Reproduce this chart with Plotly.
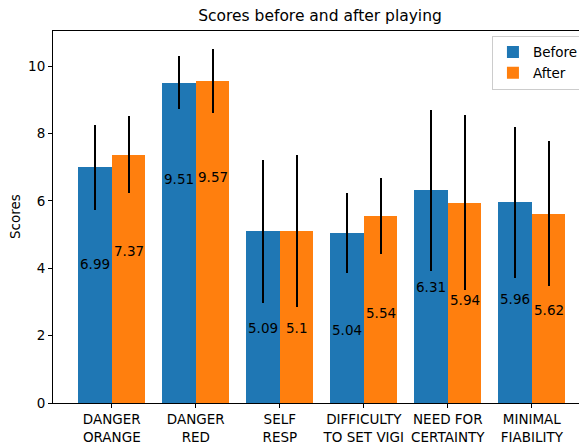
import plotly.graph_objects as go

categories = ["DANGER<br>ORANGE", "DANGER<br>RED", "SELF<br>RESP",
              "DIFFICULTY<br>TO SET VIGI", "NEED FOR<br>CERTAINTY", "MINIMAL<br>FIABILITY"]
before = [6.99, 9.51, 5.09, 5.04, 6.31, 5.96]
after = [7.37, 9.57, 5.10, 5.54, 5.94, 5.62]
before_err = [1.27, 0.78, 2.13, 1.18, 2.40, 2.24]
after_err = [1.14, 0.95, 2.25, 1.13, 2.60, 2.15]
before_labels = ["6.99", "9.51", "5.09", "5.04", "6.31", "5.96"]
after_labels = ["7.37", "9.57", "5.1", "5.54", "5.94", "5.62"]

FONT = "DejaVu Sans"
FS = 13.5
W = 0.4
idx = list(range(len(categories)))
xb = [i - W / 2 for i in idx]
xa = [i + W / 2 for i in idx]

fig = go.Figure()
fig.add_trace(go.Bar(
    x=xb, y=before, width=W, name="Before", marker=dict(color="#1f77b4", line=dict(width=0)),
    error_y=dict(type="data", array=before_err, color="black", thickness=2.2, width=0),
))
fig.add_trace(go.Bar(
    x=xa, y=after, width=W, name="After", marker=dict(color="#ff7f0e", line=dict(width=0)),
    error_y=dict(type="data", array=after_err, color="black", thickness=2.2, width=0),
))

annotations = []
for xs, vals, labs in ((xb, before, before_labels), (xa, after, after_labels)):
    for x, v, t in zip(xs, vals, labs):
        annotations.append(dict(x=x, y=v - 2.87, xref="x", yref="y", text=t, showarrow=False,
                                xanchor="center", yanchor="middle",
                                font=dict(family=FONT, size=FS, color="black")))
annotations.append(dict(x=-0.071, y=0.5, xref="paper", yref="paper", text="Scores",
                        showarrow=False, textangle=-90, xanchor="center", yanchor="middle",
                        font=dict(family=FONT, size=FS, color="black")))

# page body adds an 8px offset; figure is sized to the remaining visible area
fig.update_layout(
    width=579, height=436,
    margin=dict(l=45, r=0, t=23, b=41),
    paper_bgcolor="white", plot_bgcolor="white",
    barmode="overlay", bargap=0,
    font=dict(family=FONT, size=FS, color="black"),
    title=dict(text="Scores before and after playing", x=0.5, xref="paper", xanchor="center",
               y=1 - 2 / 436, yref="container", yanchor="top", pad=dict(t=0, b=0),
               font=dict(family=FONT, size=15.5, color="black")),
    xaxis=dict(range=[-0.7, 5.657], tickmode="array", tickvals=idx, ticktext=categories,
               showline=True, linecolor="black", linewidth=1, mirror=True,
               ticks="outside", ticklen=4, tickcolor="black", showgrid=False, zeroline=False,
               tickfont=dict(family=FONT, size=FS, color="black")),
    yaxis=dict(range=[0, 11.04], tickmode="array", tickvals=[0, 2, 4, 6, 8, 10],
               showline=True, linecolor="black", linewidth=1, mirror=False,
               ticks="outside", ticklen=4, tickcolor="black", showgrid=False, zeroline=False,
               tickfont=dict(family=FONT, size=FS, color="black")),
    legend=dict(x=0.822, y=0.987, xanchor="left", yanchor="top", bgcolor="white",
                bordercolor="#cccccc", borderwidth=1, itemwidth=30, tracegroupgap=0,
                font=dict(family=FONT, size=FS, color="black")),
    annotations=annotations,
)

fig.write_html("out.html")
